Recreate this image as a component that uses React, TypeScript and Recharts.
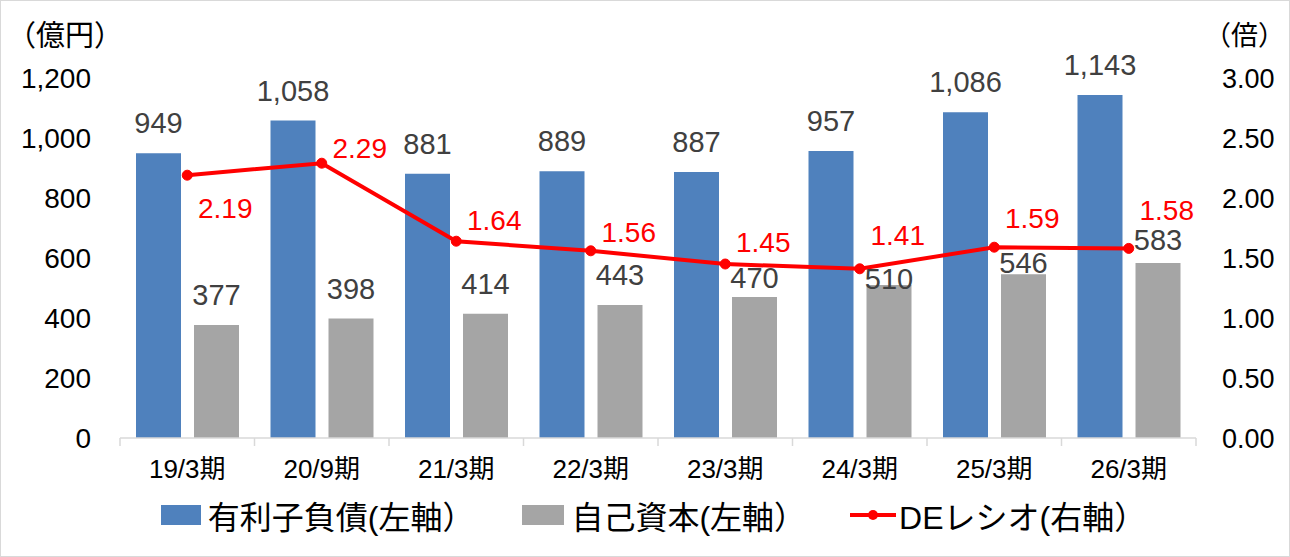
import {
  Bar,
  ComposedChart,
  LabelList,
  Legend,
  Line,
  XAxis,
  YAxis,
} from 'recharts'

const periods = ['19/3期', '20/9期', '21/3期', '22/3期', '23/3期', '24/3期', '25/3期', '26/3期']
const debtValues = [949, 1058, 881, 889, 887, 957, 1086, 1143]
const equityValues = [377, 398, 414, 443, 470, 510, 546, 583]
const deRatioValues = [2.19, 2.29, 1.64, 1.56, 1.45, 1.41, 1.59, 1.58]
const leftTicks = [0, 200, 400, 600, 800, 1000, 1200]
const rightTicks = [0, 0.5, 1, 1.5, 2, 2.5, 3]

const data = periods.map((period, i) => ({
  period,
  debt: debtValues[i],
  equity: equityValues[i],
  de: deRatioValues[i],
}))

const WIDTH = 1290
const HEIGHT = 557
const LEFT_AXIS_W = 120
const RIGHT_AXIS_W = 94
const PLOT_W = WIDTH - LEFT_AXIS_W - RIGHT_AXIS_W
const BAND = PLOT_W / periods.length

const FONT = "'Liberation Sans', 'Noto Sans CJK JP', sans-serif"
const BLUE = '#4f81bd'
const GRAY = '#a5a5a5'
const RED = '#ff0000'
const LABEL_GRAY = '#404040'

// labels were nudged by hand in the original so they dodge the line
const ratioLabelShift = [43, -5, -11, -9, -12, -24, -19, -28]
const equityLabelGap = [20, 20, 20, 20, 9, -4, 1, 13]

function PeriodTick({ x, y, payload, index }: any) {
  const left = x - BAND / 2
  const right = x + BAND / 2
  return (
    <g>
      <line x1={left} y1={y} x2={left} y2={y + 8} stroke="#d9d9d9" strokeWidth={1.5} />
      {index === periods.length - 1 ? (
        <line x1={right} y1={y} x2={right} y2={y + 8} stroke="#d9d9d9" strokeWidth={1.5} />
      ) : null}
      <text
        x={x}
        y={y + 40}
        textAnchor="middle"
        fill="#000"
        fontSize={26}
        fontFamily={FONT}
      >
        {payload.value}
      </text>
    </g>
  )
}

function BarValueLabel({ x, y, width, value, index, gaps }: any) {
  const gap = gaps ? gaps[index] ?? 20 : 20
  return (
    <text
      x={x + width / 2}
      y={y - gap}
      textAnchor="middle"
      fill={LABEL_GRAY}
      fontSize={29}
      fontFamily={FONT}
    >
      {Number(value).toLocaleString('en-US')}
    </text>
  )
}

function RatioLabel({ x, y, value, index }: any) {
  return (
    <text
      x={x + 38}
      y={y + (ratioLabelShift[index] ?? -12)}
      textAnchor="middle"
      fill={RED}
      fontSize={28}
      fontFamily={FONT}
    >
      {Number(value).toFixed(2)}
    </text>
  )
}

function ChartLegend() {
  const item = { display: 'flex', alignItems: 'center' }
  const text = { fontSize: 32, color: '#000', fontFamily: FONT, marginLeft: 7 }
  return (
    <div style={{ display: 'flex', justifyContent: 'center', height: 46, alignItems: 'center', paddingLeft: 18 }}>
      <div style={{ ...item, marginRight: 48 }}>
        <span style={{ width: 40, height: 20, background: BLUE, display: 'inline-block' }} />
        <span style={text}>有利子負債(左軸）</span>
      </div>
      <div style={{ ...item, marginRight: 44 }}>
        <span style={{ width: 42, height: 20, background: GRAY, display: 'inline-block' }} />
        <span style={text}>自己資本(左軸）</span>
      </div>
      <div style={item}>
        <svg width={46} height={20}>
          <line x1={0} y1={10} x2={46} y2={10} stroke={RED} strokeWidth={4} />
          <circle cx={23} cy={10} r={5} fill={RED} />
        </svg>
        <span style={{ ...text, marginLeft: 3 }}>DEレシオ(右軸）</span>
      </div>
    </div>
  )
}

export default function App() {
  return (
    <div
      style={{
        position: 'absolute',
        left: 0,
        top: 0,
        width: WIDTH,
        height: HEIGHT,
        background: '#fff',
        boxSizing: 'border-box',
        border: '1.5px solid #d9d9d9',
        fontFamily: FONT,
      }}
    >
      <div style={{ position: 'absolute', left: 6, top: 15, fontSize: 29, lineHeight: '40px', color: '#000' }}>（億円）</div>
      <div style={{ position: 'absolute', left: 1203, top: 15, fontSize: 27, lineHeight: '40px', color: '#000' }}>（倍）</div>
      <div style={{ position: 'absolute', left: -1.5, top: -1.5 }}>
        <ComposedChart
          width={WIDTH}
          height={HEIGHT}
          data={data}
          margin={{ top: 78, right: 0, bottom: 19, left: 0 }}
          barCategoryGap={16}
          barGap={13}
        >
          <XAxis
            dataKey="period"
            axisLine={{ stroke: '#d9d9d9', strokeWidth: 1.5 }}
            tickLine={false}
            tickSize={0}
            tickMargin={0}
            height={54}
            interval={0}
            tick={<PeriodTick />}
          />
          <YAxis
            yAxisId="left"
            orientation="left"
            width={LEFT_AXIS_W}
            domain={[0, 1200]}
            ticks={leftTicks}
            axisLine={false}
            tickLine={false}
            tickSize={0}
            tickMargin={29}
            tickFormatter={(v: number) => v.toLocaleString('en-US')}
            tick={{ fill: '#000', fontSize: 28, fontFamily: FONT }}
          />
          <YAxis
            yAxisId="right"
            orientation="right"
            width={RIGHT_AXIS_W}
            domain={[0, 3]}
            ticks={rightTicks}
            axisLine={false}
            tickLine={false}
            tickSize={0}
            tickMargin={26}
            tickFormatter={(v: number) => v.toFixed(2)}
            tick={{ fill: '#000', fontSize: 27, fontFamily: FONT }}
          />
          <Legend verticalAlign="bottom" content={<ChartLegend />} />
          <Bar yAxisId="left" dataKey="debt" fill={BLUE} isAnimationActive={false}>
            <LabelList dataKey="debt" content={<BarValueLabel />} />
          </Bar>
          <Bar yAxisId="left" dataKey="equity" fill={GRAY} isAnimationActive={false}>
            <LabelList dataKey="equity" content={<BarValueLabel gaps={equityLabelGap} />} />
          </Bar>
          <Line
            yAxisId="right"
            dataKey="de"
            type="linear"
            stroke={RED}
            strokeWidth={4}
            dot={{ r: 5, fill: RED, stroke: RED, strokeWidth: 1 }}
            isAnimationActive={false}
          >
            <LabelList dataKey="de" content={<RatioLabel />} />
          </Line>
        </ComposedChart>
      </div>
    </div>
  )
}
